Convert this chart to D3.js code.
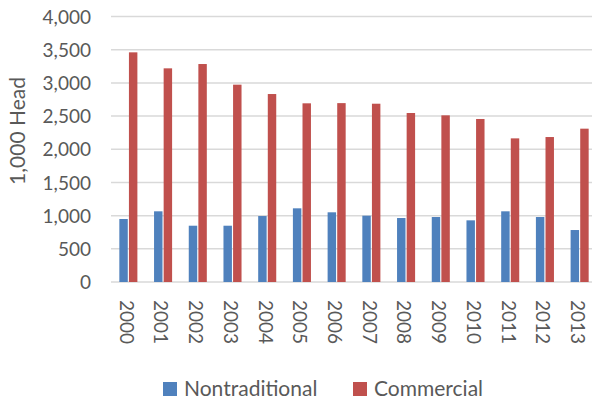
<!DOCTYPE html>
<html><head><meta charset="utf-8">
<script src="https://cdn.jsdelivr.net/npm/d3@7"></script>
<style>body{margin:0;background:#fff}svg{display:block}text{font-family:Lato,"Open Sans",sans-serif;fill:#595959}</style>
</head><body>
<svg id="c" width="592" height="400"></svg>
<script>
const years = ["2000","2001","2002","2003","2004","2005","2006","2007","2008","2009","2010","2011","2012","2013"];
const nontraditional = [949,1065,848,848,994,1110,1050,999,964,979,929,1065,979,783];
const commercial = [3460,3219,3284,2973,2832,2692,2695,2686,2546,2511,2456,2164,2184,2310];
const seriesNames = ["Nontraditional","Commercial"];
const yTicks = [0,500,1000,1500,2000,2500,3000,3500,4000];
const colors = ["#4F81BD","#C0504D"];

const svg = d3.select("#c");
const x0 = 111, x1 = 597, yTop = 16.5, yBot = 282;
const x = d3.scaleBand().domain(years).range([x0,x1]).paddingInner(0.48).paddingOuter(0.24);
const xs = d3.scaleBand().domain(seriesNames).range([0,x.bandwidth()]).paddingInner(0.12);
const y = d3.scaleLinear().domain([0,4000]).range([yBot,yTop]);

// gridlines
svg.append("g").selectAll("line").data(yTicks).join("line")
  .attr("x1",x0).attr("x2",592).attr("y1",d=>y(d)).attr("y2",d=>y(d))
  .attr("stroke","#D9D9D9").attr("stroke-width",1.5);

// y axis labels
const ya = svg.append("g").attr("transform",`translate(${x0-20},0)`)
  .call(d3.axisLeft(y).tickValues(yTicks).tickFormat(d3.format(",")).tickSize(0).tickPadding(0));
ya.select(".domain").remove();
ya.selectAll("text").attr("font-size",19).attr("fill","#595959").attr("dy","0.35em")
  .style("font-family","Lato,sans-serif");

// y title
svg.append("text").attr("transform","translate(25,131) rotate(-90)")
  .attr("text-anchor","middle").attr("font-size",21).text("1,000 Head");

// bars
const data = years.map((yr,i)=>({yr, vals:[nontraditional[i],commercial[i]]}));
const g = svg.append("g");
g.selectAll("g").data(data).join("g").attr("transform",d=>`translate(${x(d.yr)},0)`)
  .selectAll("rect").data(d=>d.vals.map((v,j)=>({v,j}))).join("rect")
  .attr("x",d=>xs(seriesNames[d.j])).attr("width",xs.bandwidth())
  .attr("y",d=>y(d.v)).attr("height",d=>yBot-y(d.v))
  .attr("fill",d=>colors[d.j]);

// x axis labels
const xa = svg.append("g").attr("transform",`translate(0,${yBot})`)
  .call(d3.axisBottom(x).tickSize(0).tickPadding(0));
xa.select(".domain").remove();
xa.selectAll("text").attr("font-size",19).attr("fill","#595959")
  .style("font-family","Lato,sans-serif")
  .attr("text-anchor","start").attr("dy","0.35em")
  .attr("transform","translate(-2,18) rotate(90)").attr("y",0).attr("x",0);

// legend
const lg = svg.append("g");
const lx = [163,353];
seriesNames.forEach((n,i)=>{
  lg.append("rect").attr("x",lx[i]).attr("y",382).attr("width",14).attr("height",14).attr("fill",colors[i]);
  lg.append("text").attr("x",lx[i]+21).attr("y",396).attr("font-size",21).text(n);
});
</script>
</body></html>
